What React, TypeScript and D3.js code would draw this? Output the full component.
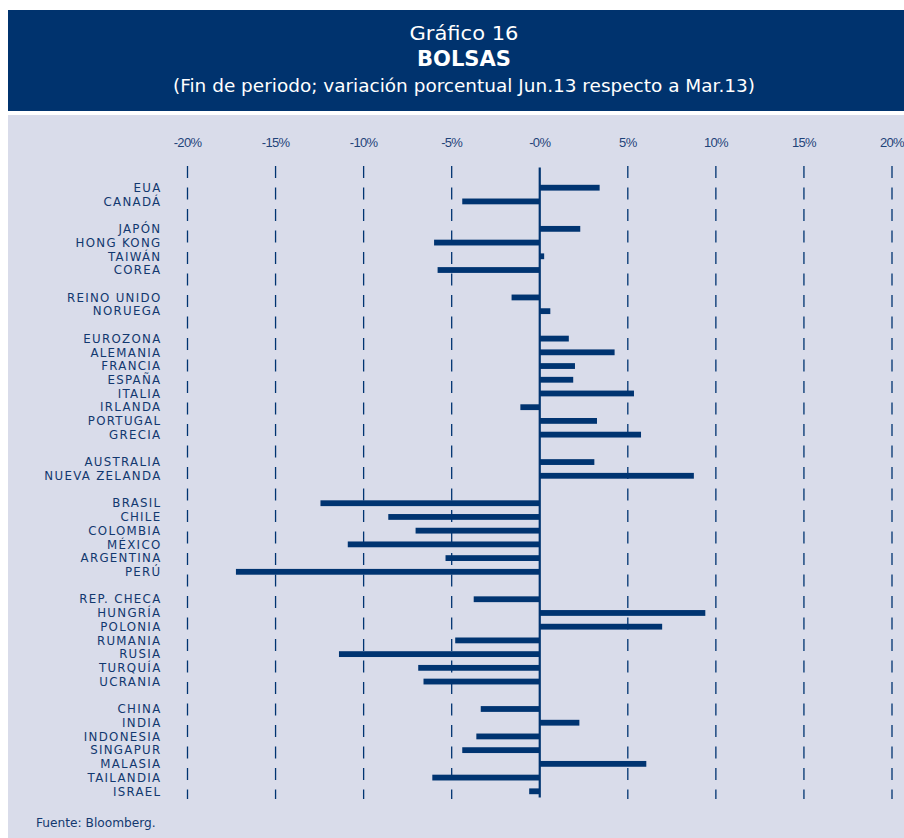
import React from "react";
import * as d3 from "d3";

const countries = [
  "EUA", "CANADÁ",
  "JAPÓN", "HONG KONG", "TAIWÁN", "COREA",
  "REINO UNIDO", "NORUEGA",
  "EUROZONA", "ALEMANIA", "FRANCIA", "ESPAÑA", "ITALIA", "IRLANDA", "PORTUGAL", "GRECIA",
  "AUSTRALIA", "NUEVA ZELANDA",
  "BRASIL", "CHILE", "COLOMBIA", "MÉXICO", "ARGENTINA", "PERÚ",
  "REP. CHECA", "HUNGRÍA", "POLONIA", "RUMANIA", "RUSIA", "TURQUÍA", "UCRANIA",
  "CHINA", "INDIA", "INDONESIA", "SINGAPUR", "MALASIA", "TAILANDIA", "ISRAEL",
];

// group index of each country (a blank row separates groups)
const groupOf = [
  0, 0,
  1, 1, 1, 1,
  2, 2,
  3, 3, 3, 3, 3, 3, 3, 3,
  4, 4,
  5, 5, 5, 5, 5, 5,
  6, 6, 6, 6, 6, 6, 6,
  7, 7, 7, 7, 7, 7, 7,
];

const values = [
  3.4, -4.4,
  2.3, -6.0, 0.25, -5.8,
  -1.6, 0.6,
  1.65, 4.25, 2.0, 1.9, 5.35, -1.1, 3.25, 5.75,
  3.1, 8.75,
  -12.45, -8.6, -7.05, -10.9, -5.35, -17.25,
  -3.75, 9.4, 6.95, -4.8, -11.4, -6.9, -6.6,
  -3.35, 2.25, -3.6, -4.4, 6.05, -6.1, -0.6,
];

const tickValues = [-20, -15, -10, -5, 0, 5, 10, 15, 20];
const tickLabels = ["-20%", "-15%", "-10%", "-5%", "-0%", "5%", "10%", "15%", "20%"];

const titleLines = ["Gráfico 16", "BOLSAS", "(Fin de periodo; variación porcentual Jun.13 respecto a Mar.13)"];
const sourceText = "Fuente: Bloomberg.";

const NAVY = "#003471";
const TEXT = "#12386f";
const PANEL = "#d9dcea";

export default function App() {
  const W = 904, H = 838;
  const rows = countries.map((_, i) => i + groupOf[i]);
  const nRows = d3.max(rows) as number;
  const x = d3.scaleLinear().domain([-20, 20]).range([187.5, 892]);
  const y = d3.scaleLinear().domain([0, nRows]).range([187.7, 791.3]);
  const barH = 5.8;
  const gridTop = 166;
  const gridBottom = 799;

  return (
    <svg width={W} height={H} style={{ position: "absolute", left: 0, top: 0 }}>
      <rect x={0} y={0} width={W} height={H} fill="#ffffff" />
      {/* header */}
      <rect x={8} y={10} width={W - 8} height={101} fill="#00336e" />
      <g fill="#ffffff" textAnchor="middle" fontFamily="'DejaVu Sans', sans-serif">
        <text x={464} y={39.5} fontSize={19} textLength={109} lengthAdjust="spacingAndGlyphs">{titleLines[0]}</text>
        <text x={464} y={66} fontSize={21} fontWeight="bold" textLength={94} lengthAdjust="spacingAndGlyphs">{titleLines[1]}</text>
        <text x={464} y={92} fontSize={17} textLength={582} lengthAdjust="spacingAndGlyphs">{titleLines[2]}</text>
      </g>
      {/* panel */}
      <rect x={8} y={115} width={W - 8} height={H - 115} fill={PANEL} />

      {/* tick labels */}
      <g fontFamily="'Liberation Sans', sans-serif" fontSize={13} fill="#1f4379" textAnchor="middle">
        {tickValues.map((t, i) => (
          <text key={t} x={x(t)} y={146.5} letterSpacing={-0.7}>{tickLabels[i]}</text>
        ))}
      </g>

      {/* grid lines */}
      <g stroke={NAVY} strokeWidth={1.3} strokeDasharray="12,9.5">
        {tickValues.filter((t) => t !== 0).map((t) => (
          <line key={t} x1={x(t)} x2={x(t)} y1={gridTop} y2={gridBottom} />
        ))}
      </g>

      {/* bars */}
      <g fill={NAVY}>
        {values.map((v, i) => (
          <rect
            key={countries[i]}
            x={Math.min(x(0), x(v))}
            y={y(rows[i]) - barH / 2}
            width={Math.abs(x(v) - x(0))}
            height={barH}
          />
        ))}
      </g>

      {/* zero line */}
      <line x1={x(0)} x2={x(0)} y1={167.5} y2={797.5} stroke={NAVY} strokeWidth={2.2} />

      {/* category labels */}
      <g fontFamily="'DejaVu Sans', sans-serif" fontSize={11.8} fill={TEXT} textAnchor="end">
        {countries.map((c, i) => (
          <text key={c} x={161.5} y={y(rows[i])} dy="0.36em" letterSpacing={1.3}>{c}</text>
        ))}
      </g>

      <text x={36} y={827} fontFamily="'DejaVu Sans', sans-serif" fontSize={12.2} fill={TEXT}>{sourceText}</text>
    </svg>
  );
}
